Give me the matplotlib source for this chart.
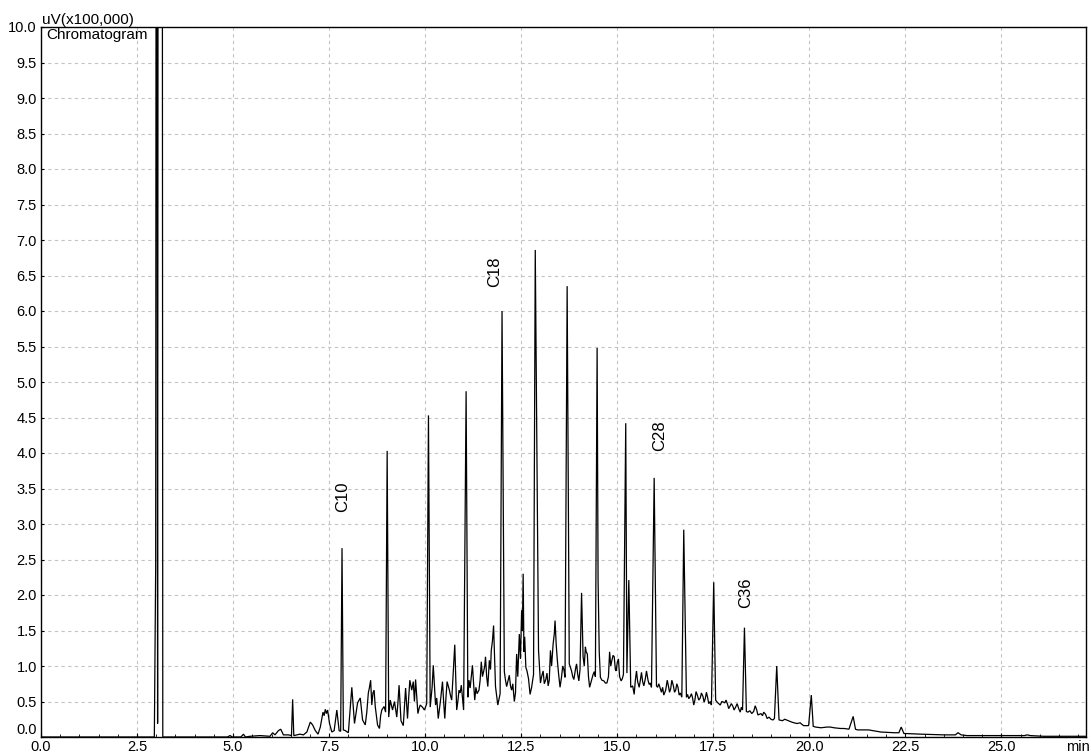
import matplotlib

matplotlib.use("Agg")
import matplotlib.pyplot as plt
import numpy as np
from matplotlib.ticker import MultipleLocator

plt.rcParams["font.family"] = ["Liberation Sans", "DejaVu Sans"]

# detector trace, retention time (min) vs signal (uV x100,000)
trace_time = [
    0.0, 2.95, 2.985, 3.005, 3.035, 3.055, 3.15, 3.17, 3.30,
    4.85, 4.92, 4.98, 5.20, 5.27, 5.32, 5.44, 5.70, 5.96, 6.03, 6.09,
    6.18, 6.24, 6.31, 6.44, 6.52, 6.55, 6.58, 6.74, 6.83, 6.92,
    7.01, 7.07, 7.14, 7.21, 7.27, 7.34, 7.40, 7.46, 7.51, 7.57,
    7.63, 7.70, 7.76, 7.80, 7.835, 7.87, 7.92, 8.00, 8.09, 8.16,
    8.24, 8.31, 8.37, 8.44, 8.52, 8.58, 8.64, 8.70, 8.76, 8.81,
    8.87, 8.93, 8.97, 9.01, 9.05, 9.09, 9.15, 9.20, 9.26, 9.32,
    9.37, 9.43, 9.49, 9.54, 9.60, 9.65, 9.69, 9.72, 9.75, 9.81,
    9.87, 9.93, 9.98, 10.04, 10.085, 10.13, 10.21, 10.27, 10.34, 10.40,
    10.45, 10.51, 10.57, 10.63, 10.69, 10.73, 10.77, 10.82, 10.88, 10.94,
    11.00, 11.065, 11.11, 11.17, 11.23, 11.29, 11.35, 11.40, 11.46, 11.52,
    11.57, 11.63, 11.67, 11.72, 11.78, 11.83, 11.89, 11.95, 12.00, 12.06,
    12.12, 12.19, 12.25, 12.32, 12.38, 12.45, 12.51, 12.55, 12.59, 12.65,
    12.73, 12.82, 12.865, 12.95, 13.00, 13.07, 13.14, 13.20, 13.26, 13.33,
    13.38, 13.44, 13.51, 13.58, 13.64, 13.695, 13.75, 13.81, 13.87, 13.94,
    14.00, 14.07, 14.11, 14.17, 14.22, 14.28, 14.37, 14.43, 14.475, 14.50,
    14.53, 14.56, 14.65, 14.73, 14.80, 14.86, 14.92, 14.97, 15.03, 15.10,
    15.16, 15.22, 15.25, 15.30, 15.35, 15.44, 15.50, 15.57, 15.63, 15.69,
    15.76, 15.83, 15.89, 15.96, 16.02, 16.08, 16.15, 16.21, 16.30, 16.36,
    16.42, 16.49, 16.55, 16.61, 16.68, 16.73, 16.80, 16.86, 16.93, 16.99,
    17.05, 17.12, 17.19, 17.26, 17.32, 17.38, 17.45, 17.51, 17.56, 17.60,
    17.68, 17.77, 17.83, 17.90, 17.97, 18.04, 18.12, 18.20, 18.26, 18.31,
    18.36, 18.40, 18.50, 18.59, 18.66, 18.74, 18.81, 18.90, 19.00, 19.09,
    19.15, 19.21, 19.36, 19.45, 19.54, 19.68, 19.76, 19.85, 19.98, 20.05,
    20.10, 20.16, 20.46, 20.64, 20.81, 21.03, 21.14, 21.20, 21.25, 21.54,
    21.86, 22.21, 22.33, 22.39, 22.46, 22.90, 23.50, 23.80, 23.87, 23.95,
    24.10, 24.80, 25.60, 25.67, 25.75, 26.10, 27.20,
]
trace_signal = [
    0.0, 0.0, 2.40, 20.0, 0.19, 20.0, 20.0, 0.0, 0.0,
    0.0, 0.02, 0.0, 0.0, 0.04, 0.0, 0.01, 0.02, 0.01, 0.06, 0.03,
    0.09, 0.11, 0.03, 0.03, 0.02, 0.53, 0.02, 0.04, 0.03, 0.07,
    0.21, 0.17, 0.09, 0.04, 0.14, 0.35, 0.39, 0.38, 0.19, 0.07,
    0.09, 0.38, 0.09, 0.08, 2.66, 0.10, 0.09, 0.06, 0.70, 0.19,
    0.48, 0.55, 0.24, 0.17, 0.62, 0.80, 0.62, 0.43, 0.17, 0.12,
    0.38, 0.43, 0.35, 4.03, 0.28, 0.52, 0.38, 0.50, 0.28, 0.73,
    0.23, 0.16, 0.69, 0.26, 0.80, 0.66, 0.78, 0.50, 0.81, 0.33,
    0.45, 0.42, 0.38, 0.47, 4.53, 0.42, 1.01, 0.45, 0.26, 0.52,
    0.78, 0.26, 0.78, 0.66, 0.52, 0.90, 1.30, 0.38, 0.66, 0.73,
    0.38, 4.87, 0.56, 0.69, 1.01, 0.52, 0.61, 0.66, 1.06, 0.92,
    1.13, 0.71, 1.08, 1.22, 1.57, 0.71, 0.45, 0.61, 6.00, 0.92,
    0.71, 0.87, 0.66, 0.50, 1.17, 1.45, 1.78, 2.30, 1.41, 0.93,
    0.60, 0.88, 6.86, 1.22, 0.76, 0.93, 0.81, 0.72, 1.22, 1.31,
    1.64, 1.08, 0.70, 1.00, 0.84, 6.35, 1.03, 0.93, 0.81, 1.03,
    0.79, 2.03, 1.13, 1.27, 1.17, 0.70, 0.88, 0.85, 5.48, 2.20,
    1.20, 0.84, 0.79, 0.76, 1.20, 1.08, 1.13, 0.93, 1.10, 0.79,
    0.88, 4.42, 0.90, 2.21, 0.70, 0.60, 0.93, 0.70, 0.91, 0.72,
    0.93, 0.74, 0.70, 3.65, 0.72, 0.75, 0.63, 0.59, 0.80, 0.63,
    0.80, 0.63, 0.75, 0.59, 0.56, 2.92, 0.56, 0.54, 0.61, 0.45,
    0.64, 0.52, 0.62, 0.49, 0.63, 0.47, 0.45, 2.18, 0.52, 0.49,
    0.45, 0.49, 0.52, 0.40, 0.47, 0.38, 0.47, 0.35, 0.38, 1.54,
    0.36, 0.35, 0.33, 0.44, 0.31, 0.33, 0.35, 0.26, 0.25, 0.26,
    1.00, 0.24, 0.25, 0.23, 0.21, 0.19, 0.20, 0.16, 0.16, 0.59,
    0.15, 0.14, 0.14, 0.13, 0.12, 0.11, 0.29, 0.11, 0.10, 0.10,
    0.07, 0.06, 0.06, 0.14, 0.05, 0.04, 0.03, 0.03, 0.06, 0.03,
    0.02, 0.02, 0.02, 0.03, 0.02, 0.01, 0.01,
]

# smaller wiggles of the unresolved hump between the main readings
wiggle_time = [
    7.37, 7.43, 8.48, 8.55, 8.61, 8.67, 8.84, 9.12, 9.29, 9.46, 9.57, 9.84,
    10.18, 10.30, 10.48, 10.54, 10.60, 10.66, 10.85, 10.91, 11.14, 11.20,
    11.26, 11.32, 11.43, 11.49, 11.55, 11.60, 11.70, 11.75, 12.09, 12.15,
    12.22, 12.28, 12.35, 12.41, 12.48, 12.53, 12.57, 12.62, 12.69, 12.77,
    13.03, 13.10, 13.17, 13.23, 13.29, 13.36, 13.41, 13.47, 13.55, 13.61,
    13.78, 13.84, 13.91, 13.97, 14.03, 14.14, 14.19, 14.25, 14.33, 14.40,
    14.60, 14.69, 14.77, 14.83, 14.89, 14.95, 15.00, 15.06, 15.13, 15.40,
    15.47, 15.53, 15.60, 15.66, 15.73, 15.80, 15.86, 16.05, 16.12, 16.18,
    16.26, 16.33, 16.39, 16.46, 16.52, 16.58, 16.64, 16.83, 16.90, 16.96,
    17.02, 17.09, 17.16, 17.23, 17.29, 17.35, 17.42, 17.64, 17.72, 17.80,
    17.87, 17.94, 18.01, 18.08, 18.16, 18.23, 18.45, 18.55, 18.63, 18.70,
    18.78, 18.86, 18.95, 19.05, 19.30, 19.60, 19.80, 20.30, 20.55, 20.90,
]
wiggle_signal = [
    0.30, 0.33, 0.35, 0.70, 0.45, 0.66, 0.30, 0.45, 0.48, 0.42, 0.55, 0.40,
    0.70, 0.55, 0.50, 0.55, 0.72, 0.58, 0.50, 0.62, 0.80, 0.85,
    0.75, 0.70, 0.80, 0.85, 1.00, 0.85, 0.95, 1.35, 0.80, 0.78,
    0.72, 0.75, 0.62, 0.85, 1.10, 1.50, 1.20, 0.98, 0.82, 0.70,
    0.85, 0.75, 0.90, 0.80, 1.00, 1.45, 1.30, 0.90, 0.85, 0.95,
    0.98, 0.85, 0.95, 0.88, 0.95, 1.00, 1.20, 0.85, 0.80, 0.92,
    0.80, 0.76, 0.85, 1.00, 1.15, 0.95, 1.05, 0.85, 0.82, 0.72,
    0.80, 0.78, 0.80, 0.78, 0.82, 0.80, 0.76, 0.70, 0.68, 0.70,
    0.66, 0.72, 0.68, 0.72, 0.66, 0.70, 0.62, 0.60, 0.57, 0.55,
    0.52, 0.58, 0.55, 0.57, 0.54, 0.56, 0.50, 0.47, 0.50, 0.48,
    0.46, 0.44, 0.43, 0.42, 0.40, 0.42, 0.37, 0.36, 0.38, 0.32,
    0.30, 0.32, 0.28, 0.24, 0.23, 0.20, 0.18, 0.13, 0.14, 0.12,
]

# n-alkane markers: label, label time (min), label height
alkane_labels = ["C10", "C18", "C28", "C36"]
alkane_time = [7.84, 11.82, 16.09, 18.33]
alkane_height = [3.38, 6.55, 4.24, 2.03]

points = sorted(zip(trace_time + wiggle_time, trace_signal + wiggle_signal))
xs = [p[0] for p in points]
ys = [p[1] for p in points]

fig = plt.figure(figsize=(10.91, 7.55), dpi=100)
ax = fig.add_axes([41 / 1091, 18 / 755, 1045 / 1091, 710 / 755])

ax.plot(xs, ys, color="black", lw=0.9, solid_joinstyle="miter")

ax.set_xlim(0, 27.2)
ax.set_ylim(0, 10.0)
ax.set_xticks(np.arange(0, 25.01, 2.5))
ax.set_yticks(np.arange(0, 10.01, 0.5))
ax.xaxis.set_minor_locator(MultipleLocator(0.5))
ax.xaxis.set_major_formatter(lambda v, p: f"{v:.1f}")
ax.yaxis.set_major_formatter(lambda v, p: f"{v:.1f}")
ax.tick_params(axis="x", which="major", direction="in", length=3, pad=2, labelsize=10.5)
ax.tick_params(axis="x", which="minor", direction="in", length=2)
ax.tick_params(axis="y", which="major", direction="in", length=2, pad=3, labelsize=10.5)
ax.grid(True, which="major", color="#c4c4c4", linestyle=(0, (3, 3)), lw=0.8)
for s in ax.spines.values():
    s.set_color("black")
    s.set_linewidth(1.0)

# lift the bottom y label so it clears the x label below it
ax.get_yticklabels()[0].set_verticalalignment("bottom")

for lab, t, h in zip(alkane_labels, alkane_time, alkane_height):
    ax.text(t, h, lab, rotation=90, ha="center", va="center", fontsize=12)

ax.text(0.001, 1.0, "uV(x100,000)", transform=ax.transAxes,
        ha="left", va="bottom", fontsize=11)
ax.text(0.005, 0.998, "Chromatogram", transform=ax.transAxes,
        ha="left", va="top", fontsize=11)
ax.text(26.98, -0.004, "min", transform=ax.get_xaxis_transform(),
        ha="center", va="top", fontsize=10.5)

fig.savefig("out.png", dpi=100)
